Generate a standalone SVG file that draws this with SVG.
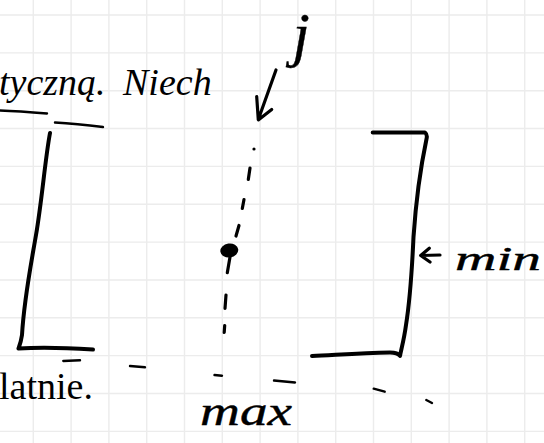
<svg xmlns="http://www.w3.org/2000/svg" width="544" height="443" viewBox="0 0 544 443">
  <style>
    .grid { stroke: #ececec; stroke-width: 1.4; fill: none; }
    .ink { stroke: #000; fill: none; stroke-linecap: round; stroke-linejoin: round; }
    .thick { stroke-width: 4; }
    .mid { stroke-width: 3.2; }
    .thin { stroke-width: 2.4; }
    .print { font-family: "Liberation Serif", "Times New Roman", serif; font-size: 38px; fill: #000; }
    .hand { font-family: "Liberation Serif", "Times New Roman", serif; font-style: italic; fill: #000; stroke: #000; stroke-width: 0.4; }
  </style>

  <rect width="544" height="443" fill="#fff"/>

  <!-- squared paper -->
  <path class="grid" d="M33.3,0V443M71.1,0V443M108.9,0V443M146.7,0V443M184.5,0V443M222.3,0V443M260.1,0V443M297.9,0V443M335.7,0V443M373.5,0V443M411.3,0V443M449.1,0V443M486.9,0V443M524.7,0V443
    M0,15H544M0,52.85H544M0,90.7H544M0,128.55H544M0,166.4H544M0,204.25H544M0,242.1H544M0,279.95H544M0,317.8H544M0,355.65H544M0,393.5H544M0,431.35H544"/>

  <!-- printed text lines -->
  <text class="print" font-style="italic" y="95"><tspan x="-1">tyczną.</tspan><tspan x="123">Niech</tspan></text>
  <text class="print" x="-1" y="399">latnie.</text>

  <!-- left bracket -->
  <g id="left-bracket">
    <path class="ink thin" d="M0,110.5 C15,111 35,112.5 47,113.5"/>
    <path class="ink thin" d="M55,122.5 C70,123.5 90,125.5 103,127"/>
    <path class="ink thick" d="M50,133 C45,160 42,200 36,235 C30,270 24,300 22,335 C21,342 19,347 18.5,348.5 C40,347 70,348 93,349.5"/>
  </g>

  <!-- right bracket -->
  <g id="right-bracket">
    <path class="ink thick" d="M372.7,132.5 L425,132.5 C427,134 427,137 426.5,139 C420,170 416,200 413.5,237 C412,270 410,300 406,325 C404,340 401,350 400,356 C398,353 395,352.5 390,352.5 C360,353 335,355 312,356"/>
  </g>

  <!-- index j -->
  <g id="index-j">
    <text class="hand" x="301" y="55" font-size="62" text-anchor="middle">j</text>
  </g>

  <!-- dashed column and the marked element -->
  <g id="column">
    <circle cx="254" cy="149" r="1.6" fill="#000"/>
    <ellipse cx="229.3" cy="250.5" rx="9" ry="7" transform="rotate(-8 229.3 250.5)" fill="#000"/>
  </g>

  <!-- min / max labels -->
  <g id="label-min">
    <text class="hand" x="455" y="270" font-size="34" textLength="86" lengthAdjust="spacingAndGlyphs">min</text>
  </g>
  <g id="label-max">
    <text class="hand" x="200" y="425" font-size="40" textLength="92" lengthAdjust="spacingAndGlyphs">max</text>
  </g>

  <!-- connectors: pointers, dashed column, dashed bottom row -->
  <g id="connectors">
    <path class="ink mid" d="M276,70 L258.3,119.5 M256.7,96.5 L258.3,120 L271.7,109.5"/>
    <path class="ink mid" d="M429.3,248.3 L420.7,255.5 L430,262 M421,255.5 L440,255"/>
    <g class="ink mid">
      <path d="M250,168 L248.3,179.5"/>
      <path d="M244,199.5 L242.3,208.5"/>
      <path d="M239,225.5 L236,236"/>
      <path d="M230,257 L227.3,272.7"/>
      <path d="M226,295 L225,308.3"/>
      <path d="M224.7,325.5 L224.2,332.5"/>
    </g>
    <g class="ink thin">
      <path d="M63.3,361 L80,360.3"/>
      <path d="M130,366 L145,367.3"/>
      <path d="M214.5,375 L222,375.7"/>
      <path d="M274,380.5 L295,382.5"/>
      <path d="M373.7,388.7 L384.7,391.7"/>
      <path d="M426.3,400 L432,403"/>
    </g>
  </g>
</svg>
